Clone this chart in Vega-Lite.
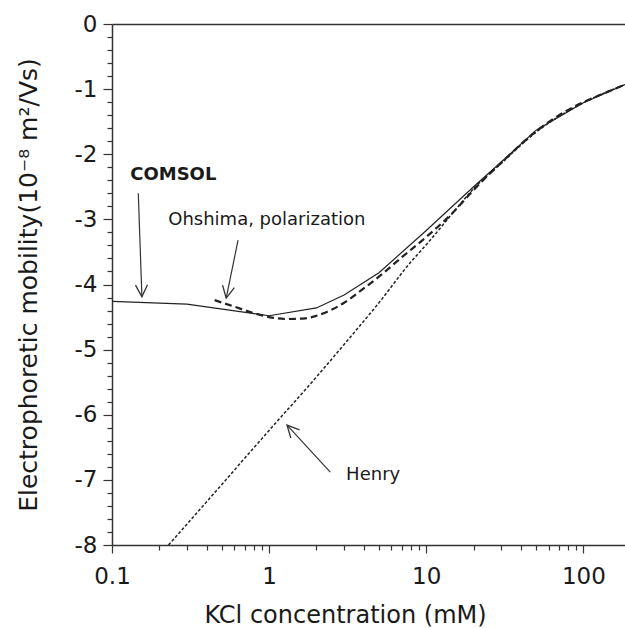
{
  "$schema": "https://vega.github.io/schema/vega-lite/v6.json",
  "width": 513,
  "height": 521,
  "autosize": {"type": "none"},
  "padding": {"left": 112, "top": 24, "right": 0, "bottom": 83},
  "background": "white",
  "config": {
    "view": {"stroke": null},
    "axis": {
      "labelFont": "DejaVu Sans",
      "titleFont": "DejaVu Sans",
      "labelFontSize": 23,
      "titleFontSize": 24,
      "titleFontWeight": "normal",
      "labelColor": "#1a1a1a",
      "titleColor": "#1a1a1a",
      "domainColor": "#333",
      "tickColor": "#333",
      "domainWidth": 1.5,
      "tickWidth": 1.2,
      "grid": false
    }
  },
  "datasets": {
    "curves": [
      {"series": "COMSOL", "conc": 0.1, "mobility": -4.26},
      {"series": "COMSOL", "conc": 0.3, "mobility": -4.3},
      {"series": "COMSOL", "conc": 1, "mobility": -4.48},
      {"series": "COMSOL", "conc": 2, "mobility": -4.36},
      {"series": "COMSOL", "conc": 3, "mobility": -4.16},
      {"series": "COMSOL", "conc": 5, "mobility": -3.82},
      {"series": "COMSOL", "conc": 10, "mobility": -3.17},
      {"series": "COMSOL", "conc": 20, "mobility": -2.5},
      {"series": "COMSOL", "conc": 30, "mobility": -2.12},
      {"series": "COMSOL", "conc": 50, "mobility": -1.63},
      {"series": "COMSOL", "conc": 100, "mobility": -1.21},
      {"series": "COMSOL", "conc": 184, "mobility": -0.93},
      {"series": "Ohshima", "conc": 0.45, "mobility": -4.24},
      {"series": "Ohshima", "conc": 0.6, "mobility": -4.34},
      {"series": "Ohshima", "conc": 0.8, "mobility": -4.44},
      {"series": "Ohshima", "conc": 1.0, "mobility": -4.5},
      {"series": "Ohshima", "conc": 1.3, "mobility": -4.53},
      {"series": "Ohshima", "conc": 1.7, "mobility": -4.52},
      {"series": "Ohshima", "conc": 2.0, "mobility": -4.48},
      {"series": "Ohshima", "conc": 3.0, "mobility": -4.28},
      {"series": "Ohshima", "conc": 4.0, "mobility": -4.06},
      {"series": "Ohshima", "conc": 5.0, "mobility": -3.88},
      {"series": "Ohshima", "conc": 7.0, "mobility": -3.58},
      {"series": "Ohshima", "conc": 10, "mobility": -3.27},
      {"series": "Ohshima", "conc": 15, "mobility": -2.88},
      {"series": "Ohshima", "conc": 20, "mobility": -2.55},
      {"series": "Ohshima", "conc": 30, "mobility": -2.13},
      {"series": "Ohshima", "conc": 50, "mobility": -1.65},
      {"series": "Ohshima", "conc": 70, "mobility": -1.4},
      {"series": "Ohshima", "conc": 100, "mobility": -1.2},
      {"series": "Ohshima", "conc": 140, "mobility": -1.05},
      {"series": "Ohshima", "conc": 184, "mobility": -0.93},
      {"series": "Henry", "conc": 0.229, "mobility": -8.0},
      {"series": "Henry", "conc": 0.3, "mobility": -7.68},
      {"series": "Henry", "conc": 0.5, "mobility": -7.07},
      {"series": "Henry", "conc": 1.0, "mobility": -6.24},
      {"series": "Henry", "conc": 2.0, "mobility": -5.42},
      {"series": "Henry", "conc": 3.0, "mobility": -4.92},
      {"series": "Henry", "conc": 5.0, "mobility": -4.28},
      {"series": "Henry", "conc": 8.0, "mobility": -3.65},
      {"series": "Henry", "conc": 10, "mobility": -3.39},
      {"series": "Henry", "conc": 15, "mobility": -2.88},
      {"series": "Henry", "conc": 20, "mobility": -2.53},
      {"series": "Henry", "conc": 30, "mobility": -2.14},
      {"series": "Henry", "conc": 50, "mobility": -1.66},
      {"series": "Henry", "conc": 100, "mobility": -1.21},
      {"series": "Henry", "conc": 184, "mobility": -0.93}
    ],
    "notes": [
      {"label": "COMSOL", "conc": 0.1306, "mobility": -2.396},
      {"label": "Ohshima, polarization", "conc": 0.228, "mobility": -3.088},
      {"label": "Henry", "conc": 3.09, "mobility": -7.005}
    ],
    "arrows": [
      {"name": "COMSOL", "conc": 0.147, "mobility": -2.6, "conc2": 0.155, "mobility2": -4.19},
      {"name": "Ohshima", "conc": 0.634, "mobility": -3.32, "conc2": 0.533, "mobility2": -4.21},
      {"name": "Henry", "conc": 2.45, "mobility": -6.88, "conc2": 1.3, "mobility2": -6.16}
    ]
  },
  "resolve": {"axis": {"x": "independent", "y": "independent"}},
  "layer": [
    {
      "data": {"name": "curves"},
      "transform": [{"filter": "datum.series === 'COMSOL'"}],
      "mark": {"type": "line", "color": "#222", "strokeWidth": 1.2, "clip": true},
      "encoding": {
        "x": {"field": "conc", "type": "quantitative",
          "scale": {"type": "log", "domain": [0.1, 184], "nice": false, "zero": false},
          "axis": {"orient": "bottom", "title": "KCl concentration (mM)", "titleX": 233, "values": [0.1, 1, 10, 100], "labelExpr": "datum.value + ''", "tickSize": 8, "labelPadding": 12, "titlePadding": 15, "labelFlush": false}},
        "y": {"field": "mobility", "type": "quantitative",
          "scale": {"domain": [-8, 0], "nice": false, "zero": false},
          "axis": {"orient": "left", "title": "Electrophoretic mobility(10⁻⁸ m²/Vs)", "titleFontSize": 25, "values": [-8, -7, -6, -5, -4, -3, -2, -1, 0], "labelExpr": "datum.value + ''", "tickSize": 9, "labelPadding": 6, "titlePadding": 33}}
      }
    },
    {
      "data": {"name": "curves"},
      "transform": [{"filter": "datum.series === 'Ohshima'"}],
      "mark": {"type": "line", "color": "#222", "strokeWidth": 2.2, "strokeDash": [7, 4], "interpolate": "monotone", "clip": true},
      "encoding": {
        "x": {"field": "conc", "type": "quantitative",
          "axis": {"orient": "bottom", "title": null, "values": [0.2, 0.3, 0.4, 0.5, 0.6, 0.7, 0.8, 0.9, 2, 3, 4, 5, 6, 7, 8, 9, 20, 30, 40, 50, 60, 70, 80, 90], "labels": false, "domain": false, "tickSize": 5}},
        "y": {"field": "mobility", "type": "quantitative",
          "axis": {"orient": "left", "title": null, "values": [-7.8, -7.6, -7.4, -7.2, -6.8, -6.6, -6.4, -6.2, -5.8, -5.6, -5.4, -5.2, -4.8, -4.6, -4.4, -4.2, -3.8, -3.6, -3.4, -3.2, -2.8, -2.6, -2.4, -2.2, -1.8, -1.6, -1.4, -1.2, -0.8, -0.6, -0.4, -0.2], "labels": false, "domain": false, "tickSize": 5}}
      }
    },
    {
      "data": {"name": "curves"},
      "transform": [{"filter": "datum.series === 'Henry'"}],
      "mark": {"type": "line", "color": "#222", "strokeWidth": 1.5, "strokeDash": [3, 2], "interpolate": "monotone", "clip": true},
      "encoding": {
        "x": {"field": "conc", "type": "quantitative",
          "axis": {"orient": "top", "title": null, "labels": false, "ticks": false, "domain": true}},
        "y": {"field": "mobility", "type": "quantitative", "axis": null}
      }
    },
    {
      "data": {"name": "arrows"},
      "mark": {"type": "rule", "color": "#333", "strokeWidth": 1.2},
      "encoding": {
        "x": {"field": "conc", "type": "quantitative", "axis": null},
        "y": {"field": "mobility", "type": "quantitative", "axis": null},
        "x2": {"field": "conc2"},
        "y2": {"field": "mobility2"}
      }
    },
    {
      "data": {"name": "arrows"},
      "transform": [{"filter": "datum.name === 'COMSOL'"}],
      "mark": {"type": "point", "shape": "M-1,2L0,0L1,2", "size": 144, "filled": false, "stroke": "#333", "strokeWidth": 1.3, "opacity": 1, "angle": 178},
      "encoding": {
        "x": {"field": "conc2", "type": "quantitative", "axis": null},
        "y": {"field": "mobility2", "type": "quantitative", "axis": null}
      }
    },
    {
      "data": {"name": "arrows"},
      "transform": [{"filter": "datum.name === 'Ohshima'"}],
      "mark": {"type": "point", "shape": "M-1,2L0,0L1,2", "size": 144, "filled": false, "stroke": "#333", "strokeWidth": 1.3, "opacity": 1, "angle": 191},
      "encoding": {
        "x": {"field": "conc2", "type": "quantitative", "axis": null},
        "y": {"field": "mobility2", "type": "quantitative", "axis": null}
      }
    },
    {
      "data": {"name": "arrows"},
      "transform": [{"filter": "datum.name === 'Henry'"}],
      "mark": {"type": "point", "shape": "M-1,2L0,0L1,2", "size": 144, "filled": false, "stroke": "#333", "strokeWidth": 1.3, "opacity": 1, "angle": 317},
      "encoding": {
        "x": {"field": "conc2", "type": "quantitative", "axis": null},
        "y": {"field": "mobility2", "type": "quantitative", "axis": null}
      }
    },
    {
      "data": {"name": "notes"},
      "transform": [{"filter": "datum.label === 'COMSOL'"}],
      "mark": {"type": "text", "font": "DejaVu Sans", "fontSize": 18, "fontWeight": "bold", "align": "left", "baseline": "alphabetic", "color": "#1a1a1a"},
      "encoding": {
        "x": {"field": "conc", "type": "quantitative", "axis": null},
        "y": {"field": "mobility", "type": "quantitative", "axis": null},
        "text": {"field": "label"}
      }
    },
    {
      "data": {"name": "notes"},
      "transform": [{"filter": "datum.label !== 'COMSOL'"}],
      "mark": {"type": "text", "font": "DejaVu Sans", "fontSize": 18, "align": "left", "baseline": "alphabetic", "color": "#1a1a1a"},
      "encoding": {
        "x": {"field": "conc", "type": "quantitative", "axis": null},
        "y": {"field": "mobility", "type": "quantitative", "axis": null},
        "text": {"field": "label"}
      }
    }
  ]
}
